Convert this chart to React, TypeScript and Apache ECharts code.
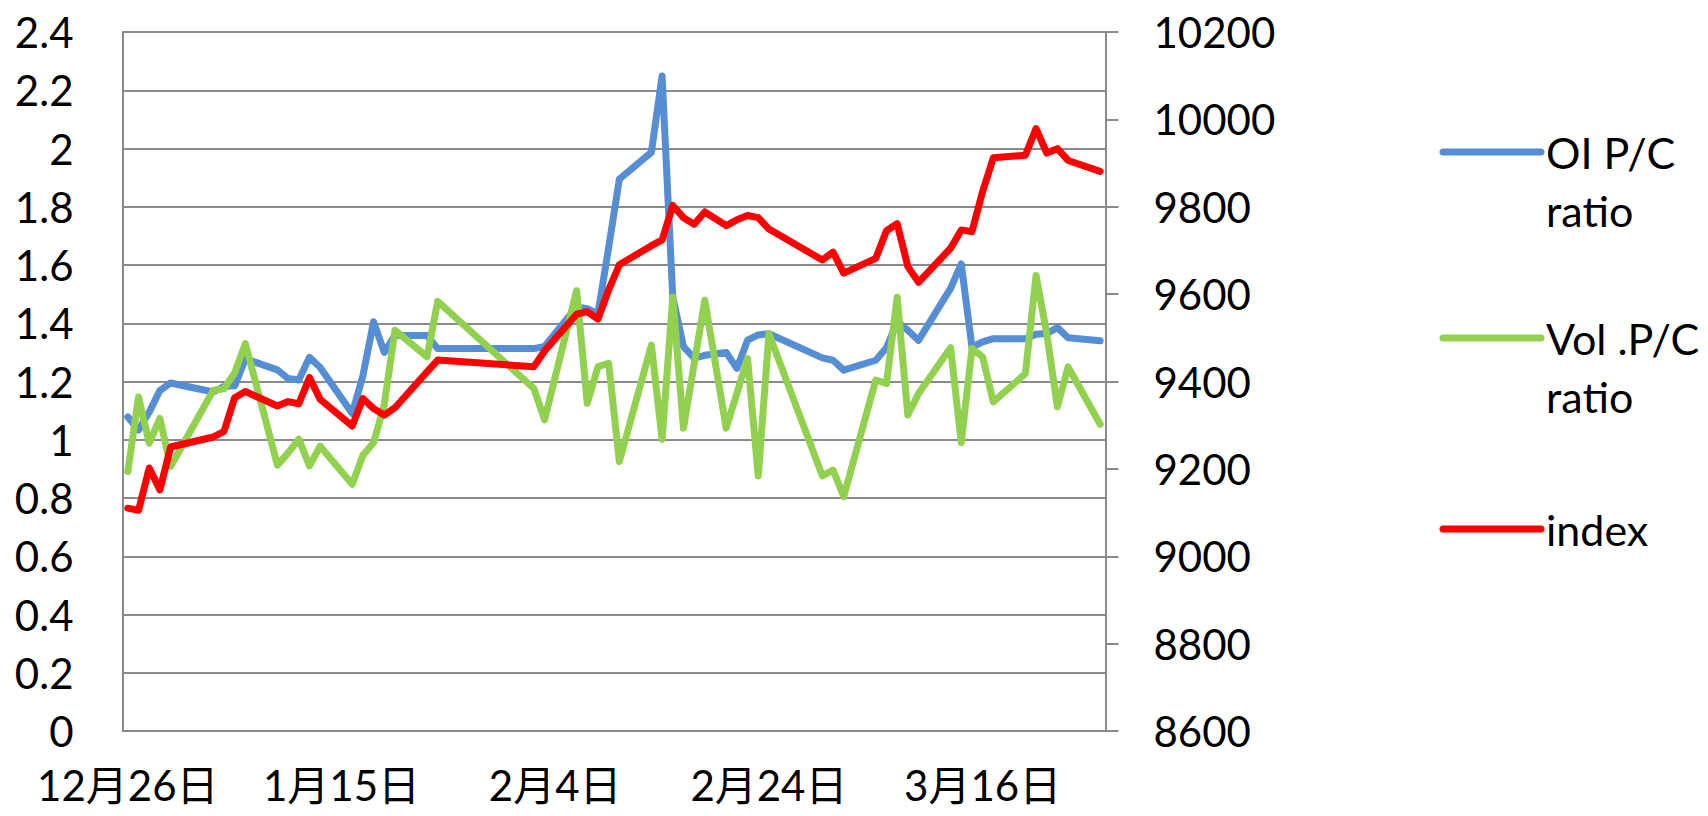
import React, { useEffect, useRef } from "react";
import * as echarts from "echarts";

// Trading dates (first to last date on the axis: 2016-12-26 .. 2017-03-27)
const tradeDates = [
  "2016-12-26", "2016-12-27", "2016-12-28", "2016-12-29", "2016-12-30",
  "2017-01-03", "2017-01-04", "2017-01-05", "2017-01-06",
  "2017-01-09", "2017-01-10", "2017-01-11", "2017-01-12", "2017-01-13",
  "2017-01-16", "2017-01-17", "2017-01-18", "2017-01-19", "2017-01-20",
  "2017-01-23", "2017-01-24",
  "2017-02-02", "2017-02-03",
  "2017-02-06", "2017-02-07", "2017-02-08", "2017-02-09", "2017-02-10",
  "2017-02-13", "2017-02-14", "2017-02-15", "2017-02-16", "2017-02-17", "2017-02-18",
  "2017-02-20", "2017-02-21", "2017-02-22", "2017-02-23", "2017-02-24",
  "2017-03-01", "2017-03-02", "2017-03-03",
  "2017-03-06", "2017-03-07", "2017-03-08", "2017-03-09", "2017-03-10",
  "2017-03-13", "2017-03-14", "2017-03-15", "2017-03-16", "2017-03-17",
  "2017-03-20", "2017-03-21", "2017-03-22", "2017-03-23", "2017-03-24",
  "2017-03-27",
];

const oiPC = [
  1.078, 1.033, 1.095, 1.169, 1.195,
  1.164, 1.183, 1.185, 1.278,
  1.24, 1.21, 1.205, 1.283, 1.248,
  1.09, 1.22, 1.405, 1.3, 1.358,
  1.358, 1.313,
  1.313, 1.32,
  1.456, 1.45, 1.433, 1.66, 1.895,
  1.987, 2.249, 1.49, 1.32, 1.28, 1.29,
  1.3, 1.245, 1.342, 1.36, 1.364,
  1.281, 1.273, 1.239,
  1.273, 1.316, 1.405, 1.376, 1.341,
  1.52, 1.604, 1.318, 1.336, 1.347,
  1.347, 1.362, 1.365, 1.385, 1.35,
  1.34,
];

const volPC = [
  0.891, 1.147, 0.988, 1.073, 0.908,
  1.17, 1.175, 1.23, 1.33,
  0.913, 0.955, 1.002, 0.91, 0.978,
  0.847, 0.947, 0.99, 1.12, 1.376,
  1.285, 1.475,
  1.176, 1.068,
  1.512, 1.125, 1.251, 1.262, 0.925,
  1.325, 1.002, 1.49, 1.04, 1.26, 1.479,
  1.04, 1.16, 1.279, 0.876, 1.364,
  0.876, 0.896, 0.805,
  1.205, 1.193, 1.489, 1.085, 1.159,
  1.316, 0.99, 1.313, 1.284, 1.13,
  1.227, 1.564, 1.364, 1.113, 1.25,
  1.053,
];

const indexValues = [
  9110, 9105, 9202, 9152, 9250,
  9273, 9286, 9363, 9377,
  9344, 9354, 9349, 9409, 9359,
  9298, 9361, 9338, 9323, 9340,
  9422, 9449,
  9434, 9470,
  9554, 9560, 9543, 9610, 9667,
  9711, 9724, 9803, 9775, 9760, 9788,
  9757, 9770, 9780, 9775, 9749,
  9678, 9696, 9648,
  9682, 9745, 9761, 9663, 9627,
  9705, 9747, 9743, 9835, 9912,
  9918, 9979, 9923, 9933, 9906,
  9881,
];

const seriesNames = ["OI P/C\nratio", "Vol .P/C\nratio", "index"];
const seriesColors = ["#558ED5", "#92D050", "#FF0000"];

const FONT = "Lato, 'Noto Sans CJK SC', sans-serif";
const GRID_COLOR = "#8a8a8a";
const LINE_W = 7;

function buildCategories(first: string, last: string): string[] {
  const out: string[] = [];
  const [y0, m0, d0] = first.split("-").map(Number);
  const [y1, m1, d1] = last.split("-").map(Number);
  let t = Date.UTC(y0, m0 - 1, d0);
  const end = Date.UTC(y1, m1 - 1, d1);
  while (t <= end) {
    const dt = new Date(t);
    const s =
      dt.getUTCFullYear() +
      "-" +
      String(dt.getUTCMonth() + 1).padStart(2, "0") +
      "-" +
      String(dt.getUTCDate()).padStart(2, "0");
    out.push(s);
    t += 86400000;
  }
  return out;
}

function fmtDate(s: string): string {
  const [, m, d] = s.split("-").map(Number);
  return `${m}月${d}日`;
}

export default function App() {
  const ref = useRef<HTMLDivElement>(null);

  useEffect(() => {
    if (!ref.current) return;
    const chart = echarts.init(ref.current, undefined, { renderer: "svg" });
    const categories = buildCategories(tradeDates[0], tradeDates[tradeDates.length - 1]);
    const pair = (vals: number[]) => tradeDates.map((d, i) => [d, vals[i]]);

    const legendRows = [152, 338, 529];
    const graphic: any[] = [];
    seriesNames.forEach((name, i) => {
      graphic.push({
        type: "line",
        shape: { x1: 1443, y1: legendRows[i], x2: 1541, y2: legendRows[i] },
        style: { stroke: seriesColors[i], lineWidth: LINE_W, lineCap: "round" },
      });
      graphic.push({
        type: "text",
        x: 1546,
        y: legendRows[i] - 29,
        style: {
          text: name,
          fontFamily: FONT,
          fontSize: 43,
          lineHeight: 58,
          fill: "#000",
          verticalAlign: "top",
          align: "left",
        },
      });
    });

    chart.setOption({
      animation: false,
      backgroundColor: "#fff",
      textStyle: { fontFamily: FONT },
      grid: { left: 122.5, right: 602.5, top: 32, bottom: 85, containLabel: false },
      xAxis: {
        type: "category",
        data: categories,
        boundaryGap: true,
        axisLine: { show: true, lineStyle: { color: GRID_COLOR, width: 2 } },
        axisTick: { show: false },
        splitLine: { show: false },
        axisLabel: {
          interval: 19,
          formatter: (v: string) => fmtDate(v),
          fontSize: 42,
          lineHeight: 42,
          fontFamily: FONT,
          color: "#000",
          margin: 33,
        },
      },
      yAxis: [
        {
          type: "value",
          position: "left",
          min: 0,
          max: 2.4,
          interval: 0.2,
          axisLine: { show: true, lineStyle: { color: GRID_COLOR, width: 2 } },
          axisTick: { show: false },
          splitLine: { show: true, lineStyle: { color: GRID_COLOR, width: 2 } },
          axisLabel: {
            fontSize: 42,
            fontFamily: FONT,
            color: "#000",
            margin: 49,
            formatter: (v: number) => String(Math.round(v * 10) / 10),
          },
        },
        {
          type: "value",
          position: "right",
          min: 8600,
          max: 10200,
          interval: 200,
          axisLine: { show: true, lineStyle: { color: GRID_COLOR, width: 2 } },
          axisTick: { show: true, inside: false, length: 13, lineStyle: { color: GRID_COLOR, width: 2 } },
          splitLine: { show: false },
          axisLabel: {
            fontSize: 42,
            fontFamily: FONT,
            color: "#000",
            margin: 48,
            formatter: (v: number) => String(v),
          },
        },
      ],
      graphic,
      series: [
        {
          name: "OI P/C ratio",
          type: "line",
          yAxisIndex: 0,
          data: pair(oiPC),
          showSymbol: false,
          symbol: "none",
          lineStyle: { color: seriesColors[0], width: LINE_W, cap: "round", join: "round" },
          z: 2,
        },
        {
          name: "Vol .P/C ratio",
          type: "line",
          yAxisIndex: 0,
          data: pair(volPC),
          showSymbol: false,
          symbol: "none",
          lineStyle: { color: seriesColors[1], width: LINE_W, cap: "round", join: "round" },
          z: 3,
        },
        {
          name: "index",
          type: "line",
          yAxisIndex: 1,
          data: pair(indexValues),
          showSymbol: false,
          symbol: "none",
          lineStyle: { color: seriesColors[2], width: LINE_W, cap: "round", join: "round" },
          z: 4,
        },
      ],
    });

    return () => chart.dispose();
  }, []);

  return (
    <div
      ref={ref}
      style={{ position: "fixed", left: 0, top: 0, width: 1708, height: 816, background: "#fff" }}
    />
  );
}
